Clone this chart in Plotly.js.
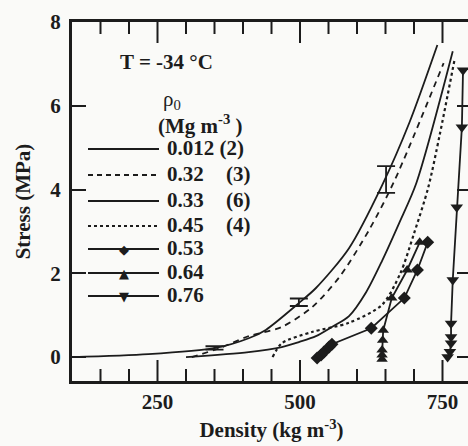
<!DOCTYPE html>
<html>
<head>
<meta charset="utf-8">
<script src="https://cdn.plot.ly/plotly-3.0.1.min.js"></script>
<style>
  html, body { margin: 0; padding: 0; overflow: hidden; background: #fafaf8; }
  #chart { width: 471px; height: 446px; }
</style>
</head>
<body>
<div id="chart"></div>
<script>
// ---- Data ----
// rho0 = 0.012 Mg m^-3 (2), solid
const x_012 = [100, 234, 352, 410, 440, 498, 528, 586, 644, 692, 741];
const y_012 = [0.0, 0.07, 0.22, 0.45, 0.65, 1.29, 1.65, 2.6, 4.1, 5.6, 7.45];
// rho0 = 0.32 (3), dashed
const x_032 = [310, 360, 410, 468, 521, 569, 621, 666, 752];
const y_032 = [0.0, 0.22, 0.5, 0.72, 1.19, 1.91, 3.03, 4.22, 7.02];
// rho0 = 0.33 (6), solid
const x_033 = [300, 410, 468, 498, 528, 556, 586, 616, 644, 674, 704, 768];
const y_033 = [0.0, 0.12, 0.24, 0.36, 0.5, 0.72, 0.98, 1.55, 2.3, 3.2, 4.15, 7.3];
// rho0 = 0.45 (4), dotted
const x_045 = [452, 468, 521, 586, 644, 676, 700, 725, 745, 771];
const y_045 = [0.0, 0.33, 0.60, 0.82, 1.25, 2.0, 2.95, 4.05, 5.3, 7.09];
// rho0 = 0.53, diamonds
const x_053 = [530, 537, 542, 551, 556, 625, 683, 706, 724];
const y_053 = [-0.02, 0.05, 0.12, 0.24, 0.31, 0.69, 1.41, 2.08, 2.74];
// rho0 = 0.64, up triangles
const x_064 = [644, 644, 644, 645, 646, 661, 688, 710];
const y_064 = [-0.05, 0.05, 0.17, 0.4, 0.64, 1.41, 2.08, 2.74];
// rho0 = 0.76, down triangles
const x_076 = [759, 763, 765, 765, 765, 768, 775, 784, 786];
const y_076 = [0.0, 0.13, 0.33, 0.48, 0.80, 1.84, 3.58, 5.49, 6.85];
// error bars on the 0.012 curve
const x_err = [350, 498, 651];
const y_err = [0.22, 1.31, 4.24];
const e_err = [0.04, 0.09, 0.32];

// axis settings
const xRange = [100, 800];
const xMajor = 250;
const xMinor = 50;
const yRange = [-0.57, 8];
const yTicks = [0, 2, 4, 6, 8];

// legend entries
const legLabels = ["0.012 (2)", "0.32", "0.33", "0.45", "0.53", "0.64", "0.76"];
const legCounts = ["", "(3)", "(6)", "(4)", "", "", ""];
const legDash = ["solid", "dash", "solid", "dot", "solid", "solid", "solid"];
const legGlyph = ["", "", "", "", "\u25C6", "\u25B2", "\u25BC"];

const INK = "#1c1c1c";
const FONT = "Liberation Serif";

const lineT = (x, y, dash, w) => ({
  type: "scatter", mode: "lines", x: x, y: y,
  line: { color: INK, width: w || 1.8, dash: dash, shape: "spline", smoothing: 0.8 },
  hoverinfo: "skip", showlegend: false
});
const markT = (x, y, sym, size) => ({
  type: "scatter", mode: "lines+markers", x: x, y: y,
  line: { color: INK, width: 1.8 },
  marker: { symbol: sym, size: size, color: INK },
  hoverinfo: "skip", showlegend: false
});

const traces = [
  lineT(x_012, y_012, "solid"),
  lineT(x_032, y_032, "6px,5px"),
  lineT(x_033, y_033, "solid"),
  lineT(x_045, y_045, "dot", 2.2),
  markT(x_053, y_053, "diamond", 10),
  markT(x_064, y_064, "triangle-up", 10),
  markT(x_076, y_076, "triangle-down", 11),
  {
    type: "scatter", mode: "markers", x: x_err, y: y_err,
    marker: { size: 1, color: "rgba(0,0,0,0)" },
    error_y: { type: "data", array: e_err, symmetric: true, color: INK, thickness: 1.8, width: 9 },
    hoverinfo: "skip", showlegend: false
  }
];

// pixel -> paper helpers for the hand-drawn legend block
const L = 72, R = 471, T = 22, B = 381;
const px = v => (v - L) / (R - L);
const py = v => (B - v) / (B - T);

const shapes = [];
const annotations = [];

// x-axis tick marks (inside, bottom and mirrored on top), positioned on the x scale
for (let v = xRange[0] + xMinor; v < xRange[1]; v += xMinor) {
  const len = (v % xMajor === 0) ? 21 : 12;
  const f = len / (B - T);
  shapes.push({ type: "line", xref: "x", yref: "paper", x0: v, x1: v, y0: 0, y1: f, line: { color: INK, width: 2 } });
  shapes.push({ type: "line", xref: "x", yref: "paper", x0: v, x1: v, y0: 1, y1: 1 - f, line: { color: INK, width: 2 } });
}

const legRowY = [149, 175, 201, 226, 249, 273, 296];
const bold = { family: FONT, size: 21, color: INK, weight: "bold" };

annotations.push({ xref: "paper", yref: "paper", x: px(118), y: py(62), xanchor: "left", yanchor: "middle",
  text: "T = -34 °C", showarrow: false, font: bold });
annotations.push({ xref: "paper", yref: "paper", x: px(161), y: py(100), xanchor: "left", yanchor: "middle",
  text: "ρ<sub>0</sub>", showarrow: false, font: { family: FONT, size: 21, color: INK } });
annotations.push({ xref: "paper", yref: "paper", x: px(156), y: py(124), xanchor: "left", yanchor: "middle",
  text: "(Mg m<sup>-3</sup> )", showarrow: false, font: bold });

legLabels.forEach((lab, i) => {
  const yy = legRowY[i];
  shapes.push({ type: "line", xref: "paper", yref: "paper", x0: px(88), x1: px(159), y0: py(yy), y1: py(yy),
    line: { color: INK, width: legDash[i] === "dot" ? 2.2 : 1.8, dash: legDash[i] === "dash" ? "5px,4px" : legDash[i] } });
  annotations.push({ xref: "paper", yref: "paper", x: px(165), y: py(yy - 1), xanchor: "left", yanchor: "middle",
    text: lab, showarrow: false, font: bold });
  if (legCounts[i]) {
    annotations.push({ xref: "paper", yref: "paper", x: px(224), y: py(yy - 1), xanchor: "left", yanchor: "middle",
      text: legCounts[i], showarrow: false, font: bold });
  }
  if (legGlyph[i]) {
    annotations.push({ xref: "paper", yref: "paper", x: px(124), y: py(yy), xanchor: "center", yanchor: "middle",
      text: legGlyph[i], showarrow: false, font: { family: "DejaVu Sans", size: 13, color: INK } });
  }
});

const layout = {
  width: 471, height: 446,
  margin: { l: L, r: 0, t: T, b: 446 - B, pad: 0 },
  paper_bgcolor: "#fafaf8", plot_bgcolor: "#fafaf8",
  font: { family: FONT, size: 21, color: INK },
  showlegend: false,
  xaxis: {
    range: xRange, tickmode: "linear", tick0: 0, dtick: xMajor,
    ticks: "", showline: true, linewidth: 3, linecolor: INK, mirror: true,
    showgrid: false, zeroline: false,
    tickfont: { family: FONT, size: 21, color: INK, weight: "bold" },
    title: { text: "Density (kg m<sup>-3</sup>)", standoff: 10,
      font: { family: FONT, size: 21, color: INK, weight: "bold" } }
  },
  yaxis: {
    range: yRange, tickmode: "array", tickvals: yTicks,
    ticks: "inside", ticklen: 14, tickwidth: 2, tickcolor: INK,
    showline: true, linewidth: 3, linecolor: INK, mirror: "allticks",
    showgrid: false, zeroline: false, ticklabelstandoff: 4,
    tickfont: { family: FONT, size: 21, color: INK, weight: "bold" },
    title: { text: "Stress (MPa)", standoff: 14,
      font: { family: FONT, size: 21, color: INK, weight: "bold" } }
  },
  shapes: shapes,
  annotations: annotations
};

Plotly.newPlot("chart", traces, layout, { staticPlot: true, displayModeBar: false });
</script>
</body>
</html>
